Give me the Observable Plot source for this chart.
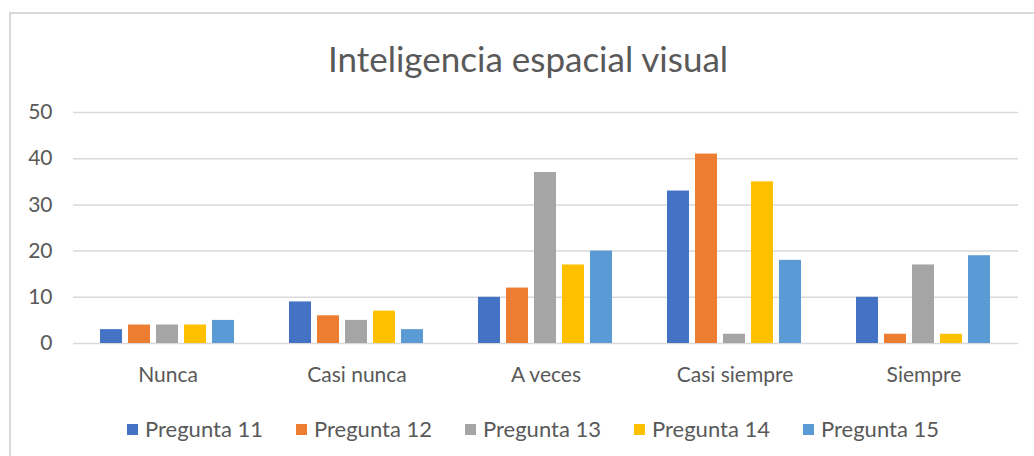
<!DOCTYPE html>
<html>
<head>
<meta charset="utf-8">
<script src="https://cdn.jsdelivr.net/npm/d3@7"></script>
<script src="https://cdn.jsdelivr.net/npm/@observablehq/plot@0.6"></script>
<style>
  html, body { margin: 0; padding: 0; background: #fff; }
  #wrap { position: relative; width: 1034px; height: 456px; overflow: hidden; font-family: Lato, sans-serif; color: #595959; }
  #frame { position: absolute; left: 9px; top: 12px; width: 1040px; height: 470px; border: 2px solid #d9d9d9; box-sizing: border-box; }
  #title { position: absolute; left: 0; width: 1056px; top: 37px; text-align: center; font-size: 35px; line-height: 42px; }
  #chart { position: absolute; left: 0; top: 0; }
  #legend { position: absolute; left: 127px; top: 415px; display: flex; font-size: 22px; line-height: 28px; }
  .item { display: flex; align-items: center; width: 169px; }
  .sw { width: 11px; height: 11px; margin-right: 7px; }
</style>
</head>
<body>
<div id="wrap">
  <div id="frame"></div>
  <div id="title">Inteligencia espacial visual</div>
  <div id="chart"></div>
  <div id="legend"></div>
</div>
<script>
const categories = ["Nunca", "Casi nunca", "A veces", "Casi siempre", "Siempre"];
const series = ["Pregunta 11", "Pregunta 12", "Pregunta 13", "Pregunta 14", "Pregunta 15"];
const pregunta11 = [3, 9, 10, 33, 10];
const pregunta12 = [4, 6, 12, 41, 2];
const pregunta13 = [4, 5, 37, 2, 17];
const pregunta14 = [4, 7, 17, 35, 2];
const pregunta15 = [5, 3, 20, 18, 19];
const colors = ["#4472C4", "#ED7D31", "#A5A5A5", "#FFC000", "#5B9BD5"];
const yTicks = [0, 10, 20, 30, 40, 50];

const allValues = [pregunta11, pregunta12, pregunta13, pregunta14, pregunta15];
const data = [];
series.forEach((s, i) => {
  categories.forEach((c, j) => data.push({cat: c, serie: s, value: allValues[i][j]}));
});

const chart = Plot.plot({
  width: 1034,
  height: 456,
  marginTop: 112,
  marginBottom: 113,
  marginLeft: 73,
  marginRight: 16,
  style: {fontFamily: "Lato, sans-serif", fontSize: "21px", color: "#595959", background: "transparent", overflow: "visible"},
  fx: {domain: categories, padding: 0, label: null, axis: "bottom", tickSize: 0, tickPadding: 24},
  x: {domain: series, axis: null, paddingInner: 0.2, paddingOuter: 0.86},
  y: {domain: [0, 50], ticks: yTicks, tickSize: 0, tickPadding: 21, label: null, grid: false},
  color: {domain: series, range: colors},
  marks: [
    Plot.ruleY(yTicks, {stroke: "#d9d9d9", strokeWidth: 1.5}),
    Plot.barY(data, {fx: "cat", x: "serie", y: "value", fill: "serie", inset: 0})
  ]
});
document.getElementById("chart").appendChild(chart);

const legend = document.getElementById("legend");
series.forEach((s, i) => {
  const it = document.createElement("div");
  it.className = "item";
  const sw = document.createElement("div");
  sw.className = "sw";
  sw.style.background = colors[i];
  const t = document.createElement("span");
  t.textContent = s;
  it.appendChild(sw);
  it.appendChild(t);
  legend.appendChild(it);
});
</script>
</body>
</html>
